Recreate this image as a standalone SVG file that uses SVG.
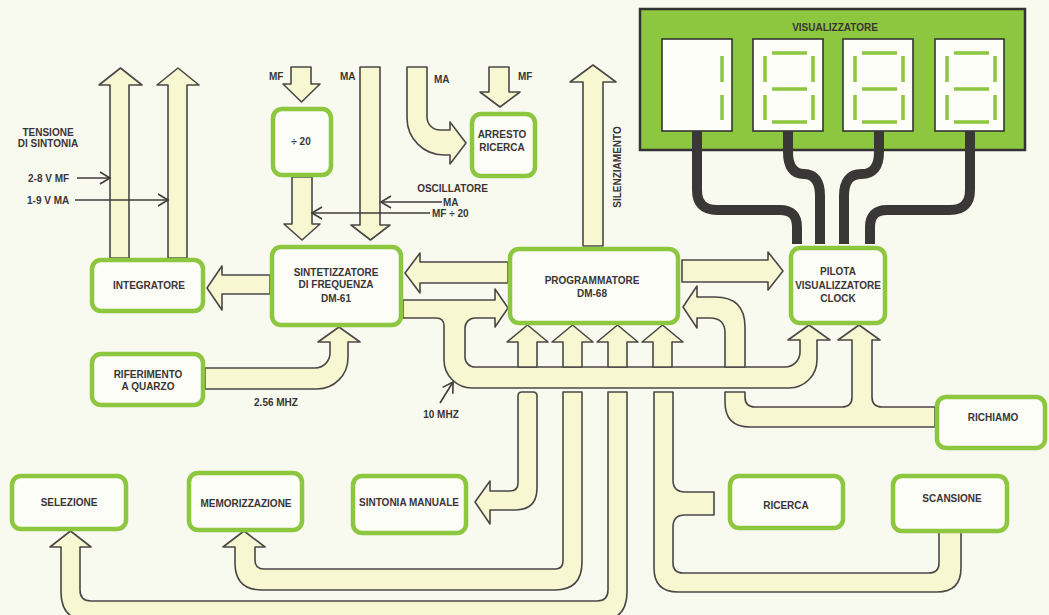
<svg xmlns="http://www.w3.org/2000/svg" width="1049" height="615" viewBox="0 0 1049 615">
<style>
.arrow{fill:#F7F8D2;stroke:#4b4747;stroke-width:1.6;stroke-linejoin:round}
.box{fill:#FDFDF7;stroke:#8DC63F;stroke-width:4.5}
.t{font-family:"Liberation Sans",Arial,sans-serif;font-weight:bold;font-size:10px;fill:#3a3535;text-anchor:middle}
.ts{text-anchor:start}
.thin{stroke:#3f3b3b;stroke-width:1.6;fill:none;marker-end:url(#chev)}
.wire{stroke:#3a3737;stroke-width:10;fill:none}
.seg{stroke:#8DC63F;stroke-width:3.5}
.win{fill:#FEFEF8;stroke:#333;stroke-width:1.6}
</style>
<defs>
<marker id="chev" markerUnits="userSpaceOnUse" markerWidth="14" markerHeight="14" refX="10" refY="6" orient="auto" overflow="visible">
<path d="M0,0 L10,6 L0,12" fill="none" stroke="#3f3b3b" stroke-width="1.6"/>
</marker>
<g id="digit8">
<line class="seg" x1="12" y1="17" x2="12" y2="43"/>
<line class="seg" x1="12" y1="56" x2="12" y2="81"/>
<line class="seg" x1="60" y1="17" x2="60" y2="43"/>
<line class="seg" x1="60" y1="56" x2="60" y2="81"/>
<line class="seg" x1="19" y1="14" x2="54" y2="14"/>
<line class="seg" x1="19" y1="50" x2="54" y2="50"/>
<line class="seg" x1="19" y1="83" x2="54" y2="83"/>
</g>
</defs>
<rect width="1049" height="615" fill="#F9FAEF"/>

<g id="visualizzatore">
<rect x="640" y="9" width="385" height="141" fill="#8DC63F" stroke="#333" stroke-width="2.5"/>
<text class="t" x="835" y="31">VISUALIZZATORE</text>
<rect class="win" x="662" y="39" width="70" height="92"/>
<rect class="win" x="753" y="39" width="70" height="92"/>
<rect class="win" x="843" y="39" width="70" height="92"/>
<rect class="win" x="935" y="39" width="69" height="92"/>
<line class="seg" x1="722" y1="56" x2="722" y2="82"/>
<line class="seg" x1="722" y1="95" x2="722" y2="120"/>
<use href="#digit8" x="753" y="39"/>
<use href="#digit8" x="843" y="39"/>
<use href="#digit8" x="935" y="39"/>
</g>

<g id="connectors">
<!-- wires display -> pilota -->
<path class="wire" d="M697,131 V190 Q697,210 717,210 H780 Q797,210 797,227 V244"/>
<path class="wire" d="M788,131 V152 Q788,174 804,174 Q820,174 820,196 V244"/>
<path class="wire" d="M879,131 V152 Q879,174 861.5,174 Q844,174 844,196 V244"/>
<path class="wire" d="M970,131 V190 Q970,210 950,210 H887 Q870,210 870,227 V244"/>

<!-- tuning voltage arrows -->
<path class="arrow" d="M110,258 V85 H99 L120.5,68 L142,85 H129 V258 Z"/>
<path class="arrow" d="M168,258 V85 H157 L178,68 L199,85 H187 V258 Z"/>
<line class="thin" x1="77" y1="178" x2="110" y2="178"/>
<line class="thin" x1="75" y1="200" x2="168" y2="200"/>

<!-- MF -> /20 -->
<path class="arrow" d="M291,67 V84 H283 L301.5,102 L320,84 H311 V67 Z"/>
<!-- /20 -> sint -->
<path class="arrow" d="M292,177 V224 H284 L302,240 L320,224 H312 V177 Z"/>
<!-- MA -> sint -->
<path class="arrow" d="M360,67 V225 H351 L370.5,240 L390,225 H380 V67 Z"/>
<line class="thin" x1="442" y1="202" x2="381" y2="202"/>
<line class="thin" x1="430" y1="213" x2="312" y2="213"/>

<!-- MA -> arresto -->
<path class="arrow" d="M407,67 V118 A37,37 0 0 0 444,155 H450 V164 L466,143 L450,122 V130 H440 A13,13 0 0 1 427,117 V67 Z"/>
<!-- MF -> arresto -->
<path class="arrow" d="M489,67 V92 H480 L500,107 L520,92 H509 V67 Z"/>

<!-- silenziamento -->
<path class="arrow" d="M583,246 V82 H570 L593,65 L616,82 H603 V246 Z"/>

<!-- sint -> integratore -->
<path class="arrow" d="M270,275 H222 V266 L207,288 L222,310 V294 H270 Z"/>
<!-- riferimento -> sint -->
<path class="arrow" d="M205,368 H315 A15,15 0 0 0 330,353 V342 H318 L339,327 L360,342 H348 V358 A31,31 0 0 1 317,389 H205 Z"/>
<!-- prog -> sint -->
<path class="arrow" d="M508,262 H420 V253 L405,273 L420,293 V283 H508 Z"/>
<!-- prog -> pilota -->
<path class="arrow" d="M682,260 H768 V252 L783,271 L768,290 V282 H682 Z"/>

<!-- 10 MHz bus: sint -> prog, -> pilota -->
<path class="arrow" d="M403,300 H495 V289 L508,308 L495,327 V318 H475 A10,10 0 0 0 465,328 V357 A10,10 0 0 0 475,367 H785 A15,15 0 0 0 800,352 V340 H788 L809,325 L830,340 H817 V360 A28,28 0 0 1 789,388 H472 A28,28 0 0 1 444,360 V326 Q444,318 436,318 H403 Z"/>
<!-- up arrows into programmatore -->
<path class="arrow" d="M518,367 V342 H507 L527.5,325 L548,342 H537 V367 Z"/>
<path class="arrow" d="M563,367 V342 H552 L572.5,325 L593,342 H582 V367 Z"/>
<path class="arrow" d="M608,367 V342 H597 L617.5,325 L638,342 H627 V367 Z"/>
<path class="arrow" d="M653,367 V342 H642 L662.5,325 L683,342 H672 V367 Z"/>
<!-- right loop into programmatore -->
<path class="arrow" d="M725,367 V333 Q725,318 710,318 H697 V328 L683,307 L697,286 V297 H715 Q745,297 745,327 V367 Z"/>
<line x1="440" y1="403" x2="453" y2="382" class="thin"/>

<!-- prog -> sintonia manuale -->
<path class="arrow" d="M518,396 Q518,392 522,392 H533 Q537,392 537,396 V488 Q537,510 515,510 H490 V524 L475,502 L490,481 V491 H510 Q518,491 518,483 Z"/>
<!-- memorizzazione -->
<path class="arrow" d="M563,392 H582 V562 Q582,590 555,590 H262 Q235,590 235,563 V547 H223 L244,531 L265,547 H255 V560 Q255,569 264,569 H555 Q563,569 563,561 Z"/>
<!-- selezione -->
<path class="arrow" d="M608,392 H627 V592 Q627,621 598,621 H90 Q61,621 61,592 V547 H50 L70.5,531 L91,547 H80 V590 Q80,601 91,601 H597 Q608,601 608,590 Z"/>
<!-- scansione / ricerca -->
<path class="arrow" d="M654,392 H673 V480 Q673,492 685,492 H714 V515 H685 Q673,515 673,527 V563 Q673,573 683,573 H929 Q939,573 939,563 V532 H961 V568 Q961,592 937,592 H678 Q654,592 654,568 Z"/>
<!-- richiamo -->
<path class="arrow" d="M725,392 H745 V397 Q745,407 755,407 H842 Q852,407 852,397 V340 H838 L859,325 L880,340 H872 V397 Q872,407 882,407 H935 V427 H750 Q725,427 725,402 Z"/>
</g>

<g id="labels">
<text class="t" x="48" y="135.5">TENSIONE</text>
<text class="t" x="48" y="147">DI SINTONIA</text>
<text class="t ts" x="28" y="181.5">2-8 V MF</text>
<text class="t ts" x="27" y="203.5">1-9 V MA</text>
<text class="t ts" x="269" y="80">MF</text>
<text class="t ts" x="340" y="80">MA</text>
<text class="t ts" x="434" y="83">MA</text>
<text class="t ts" x="518" y="80">MF</text>
<text class="t" x="452.5" y="191.5">OSCILLATORE</text>
<text class="t ts" x="443" y="205.5">MA</text>
<text class="t ts" x="432" y="216.5">MF ÷ 20</text>
<text class="t" transform="translate(620.5,167) rotate(-90)">SILENZIAMENTO</text>
<text class="t" x="276" y="405.5">2.56 MHZ</text>
<text class="t" x="441" y="417.5">10 MHZ</text>
</g>

<g id="div20"><rect class="box" x="273" y="109" width="58" height="66" rx="9"/><text class="t" x="301" y="145">÷ 20</text></g>
<g id="arresto"><rect class="box" x="472" y="114" width="63" height="62" rx="9"/><text class="t" x="502" y="137.5">ARRESTO</text><text class="t" x="502" y="150.5">RICERCA</text></g>
<g id="integratore"><rect class="box" x="92" y="260" width="111" height="51" rx="9"/><text class="t" x="149" y="288.5">INTEGRATORE</text></g>
<g id="sintetizzatore"><rect class="box" x="272" y="247" width="129" height="78" rx="9"/><text class="t" x="336" y="275.5">SINTETIZZATORE</text><text class="t" x="336" y="288">DI FREQUENZA</text><text class="t" x="336" y="301.5">DM-61</text></g>
<g id="riferimento"><rect class="box" x="92" y="354" width="111" height="51" rx="9"/><text class="t" x="148" y="377.5">RIFERIMENTO</text><text class="t" x="148" y="389.5">A QUARZO</text></g>
<g id="programmatore"><rect class="box" x="510" y="249" width="168" height="74" rx="9"/><text class="t" x="592" y="283.5">PROGRAMMATORE</text><text class="t" x="592" y="296.5">DM-68</text></g>
<g id="pilota"><rect class="box" x="791" y="248" width="94" height="75" rx="9"/><text class="t" x="838" y="274.5">PILOTA</text><text class="t" x="838" y="288.5">VISUALIZZATORE</text><text class="t" x="838" y="301.5">CLOCK</text></g>
<g id="richiamo"><rect class="box" x="937" y="397" width="108" height="51" rx="9"/><text class="t" x="993" y="420.5">RICHIAMO</text></g>
<g id="ricerca"><rect class="box" x="730" y="476" width="113" height="52" rx="9"/><text class="t" x="786" y="508.5">RICERCA</text></g>
<g id="scansione"><rect class="box" x="893" y="476" width="114" height="55" rx="9"/><text class="t" x="952" y="501.5">SCANSIONE</text></g>
<g id="selezione"><rect class="box" x="12" y="476" width="114" height="53" rx="9"/><text class="t" x="69" y="505.5">SELEZIONE</text></g>
<g id="memorizzazione"><rect class="box" x="189" y="473" width="113" height="57" rx="9"/><text class="t" x="246" y="506.5">MEMORIZZAZIONE</text></g>
<g id="sintonia"><rect class="box" x="353" y="476" width="113" height="57" rx="9"/><text class="t" x="409" y="505.5">SINTONIA MANUALE</text></g>
</svg>
